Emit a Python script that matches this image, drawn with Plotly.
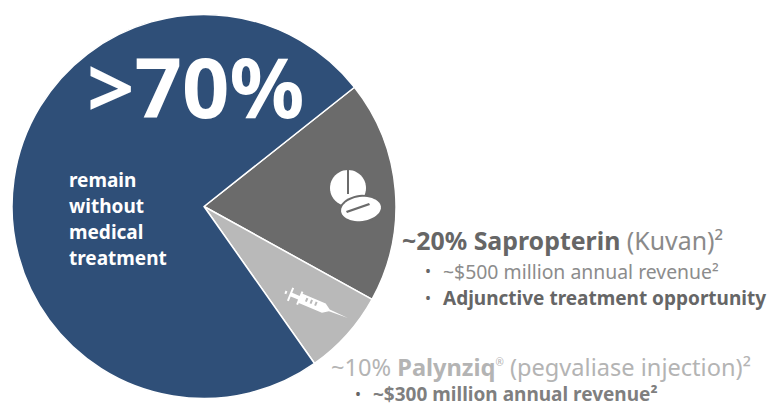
import math
import plotly.graph_objects as go

W, H = 770, 405
labels = ["Sapropterin (Kuvan)", "Palynziq", "Without medical treatment"]
shares = [18.7, 7.2, 74.1]
colors = ["#6b6b6b", "#b9b9b9", "#2f4f78"]
FONT = "Noto Sans"
DARK = "#666666"
LIGHT = "#b4b4b4"
texts = [
    (85, 85, ">70%", 83, "#ffffff", True),
    (67, 180, "remain", 19, "#ffffff", True),
    (67, 206, "without", 19, "#ffffff", True),
    (67, 232, "medical", 19, "#ffffff", True),
    (67, 258, "treatment", 19, "#ffffff", True),
    (400, 240, "~20% <b>Sapropterin</b> <span style='color:#8a8a8a;font-weight:400'>(Kuvan)²</span>", 24.9, "#666666", True),
    (423, 271, "•", 16, DARK, False),
    (441, 271, "~$500 million annual revenue²", 19.4, "#8c8c8c", False),
    (423, 298, "•", 16, DARK, False),
    (441, 298, "Adjunctive treatment opportunity", 19, DARK, True),
    (329, 367, "~10% <b>Palynziq</b><sup><span style='font-size:10px'>®</span></sup> (pegvaliase injection)²", 23.6, LIGHT, False),
    (353, 394, "•", 16, DARK, False),
    (371, 394, "~$300 million annual revenue²", 19, "#7f7f7f", True),
]

def px(x): return x / W
def py(y): return 1 - y / H

fig = go.Figure(go.Pie(
    labels=labels, values=shares, sort=False, direction="clockwise", rotation=51.6,
    marker=dict(colors=colors, line=dict(color="#ffffff", width=1.5)),
    textinfo="none", hoverinfo="label+percent", showlegend=False,
    domain=dict(x=[px(12), px(396)], y=[py(398.5), py(14.5)]),
))

def shape_path(points, fill):
    d = "M " + " L ".join(f"{px(x):.5f},{py(y):.5f}" for x, y in points) + " Z"
    return dict(type="path", xref="paper", yref="paper", path=d, fillcolor=fill,
                line=dict(color="rgba(0,0,0,0)", width=0), layer="above")

def ellipse_pts(cx, cy, rx, ry, rot=0):
    pts = []
    for i in range(48):
        t = 2 * math.pi * i / 48
        x, y = rx * math.cos(t), ry * math.sin(t)
        c, s = math.cos(rot), math.sin(rot)
        pts.append((cx + x * c - y * s, cy + x * s + y * c))
    return pts

def along(t, n):
    return (285 + 0.924 * t - 0.382 * n, 292 + 0.382 * t + 0.924 * n)

syringe = [(0, -1.5), (0, 1.5), (2, 1.5), (2, 0), (5, 0), (5, 7), (7, 7), (7, 2), (15, 2), (15, 7), (17, 7),
           (17, 5), (42, 5), (48, 1), (68, 0), (48, -1), (42, -5), (17, -5), (17, -7), (15, -7), (15, -2),
           (7, -2), (7, -7), (5, -7), (5, 0), (2, 0), (2, -1.5)]

shapes = [
    shape_path(ellipse_pts(348, 188, 18, 18), "#ffffff"),
    shape_path([(347, 170), (349, 170), (349, 194), (347, 194)], "#6b6b6b"),
    shape_path(ellipse_pts(361, 209, 22, 14, -0.12), "#6b6b6b"),
    shape_path(ellipse_pts(361, 209, 20, 12, -0.12), "#ffffff"),
    shape_path([(346, 211), (369, 203), (370, 205), (347, 213)], "#6b6b6b"),
    shape_path([along(t, n) for t, n in syringe], "#ffffff"),
]
for t0 in (22, 27, 32):
    shapes.append(shape_path([along(t0, -3), along(t0 + 2, -3), along(t0 + 2, 1), along(t0, 1)], "#b9b9b9"))

annotations = [
    dict(x=px(x), y=py(y), xref="paper", yref="paper", xanchor="left", yanchor="middle",
         showarrow=False, align="left",
         text=(f"<b>{t}</b>" if bold else t),
         font=dict(family=FONT, size=s, color=c))
    for x, y, t, s, c, bold in texts
]

fig.update_layout(width=W, height=H, margin=dict(l=0, r=0, t=0, b=0), paper_bgcolor="#ffffff",
                  shapes=shapes, annotations=annotations)
fig.write_html("out.html", config=dict(displayModeBar=False),
               post_script="document.body.style.margin='0';document.documentElement.style.overflow='hidden';")
